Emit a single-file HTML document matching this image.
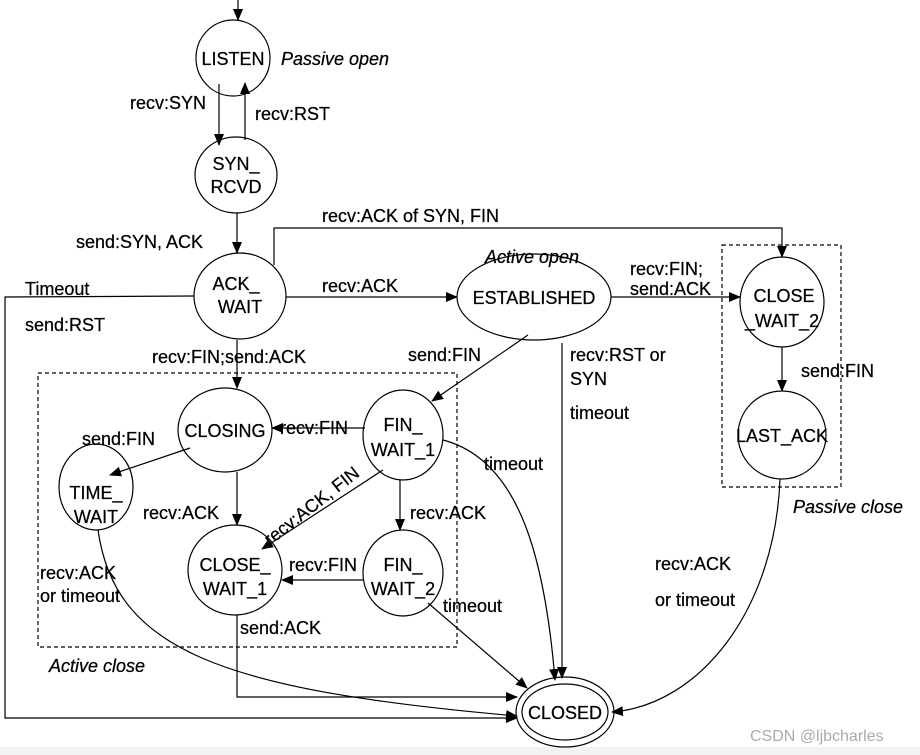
<!DOCTYPE html>
<html><head><meta charset="utf-8"><style>
html,body{margin:0;padding:0;background:#fff}
svg{display:block}
text{font-family:"Liberation Sans",Arial,sans-serif;font-size:18px;fill:#000;stroke:#000;stroke-width:0.25}
.i{font-style:italic}
.c{text-anchor:middle}
</style></head><body>
<svg width="920" height="755" viewBox="0 0 920 755" xmlns="http://www.w3.org/2000/svg">
<defs><marker id="a" markerWidth="12" markerHeight="10" refX="11" refY="5" orient="auto" markerUnits="userSpaceOnUse"><path d="M0,0 L12,5 L0,10 z" fill="#000"/></marker></defs>
<rect x="0" y="747" width="920" height="8" fill="#f2f2f2"/>
<g fill="none" stroke="#000" stroke-width="1.2">
<rect x="38" y="373" width="419" height="274" stroke-dasharray="4,3"/>
<rect x="722" y="245" width="119" height="242" stroke-dasharray="4,3"/>
<ellipse cx="233" cy="58" rx="37" ry="38"/>
<ellipse cx="236" cy="175" rx="41" ry="38"/>
<ellipse cx="240" cy="296" rx="46" ry="43"/>
<ellipse cx="534" cy="297" rx="77" ry="43"/>
<ellipse cx="782" cy="302" rx="42" ry="45"/>
<ellipse cx="782" cy="435" rx="44" ry="44"/>
<ellipse cx="225" cy="430" rx="47" ry="42"/>
<ellipse cx="403" cy="435" rx="40" ry="45"/>
<ellipse cx="96" cy="487" rx="37" ry="43"/>
<ellipse cx="235" cy="570" rx="47" ry="45"/>
<ellipse cx="403" cy="573" rx="40" ry="43"/>
<ellipse cx="565" cy="712" rx="49" ry="35"/>
<ellipse cx="565" cy="712" rx="43" ry="28"/>
<g marker-end="url(#a)">
<line x1="238" y1="0" x2="238" y2="20"/>
<line x1="219" y1="84" x2="219" y2="145"/>
<line x1="245" y1="140" x2="245" y2="83"/>
<line x1="237" y1="213" x2="237" y2="253"/>
<polyline points="274,265 274,228 782,228 782,257"/>
<line x1="286" y1="297" x2="457" y2="297"/>
<polyline points="194,296 5,297 5,718 517,718"/>
<line x1="237" y1="340" x2="237" y2="388"/>
<line x1="611" y1="297" x2="740" y2="297"/>
<line x1="528" y1="335" x2="432" y2="401"/>
<line x1="562" y1="343" x2="562" y2="678"/>
<line x1="782" y1="347" x2="782" y2="391"/>
<path d="M780,479 C775,610 700,705 612,712"/>
<line x1="365" y1="428" x2="272" y2="428"/>
<path d="M443,440 C520,460 545,560 555,680"/>
<line x1="383" y1="470" x2="262" y2="549"/>
<line x1="400" y1="480" x2="400" y2="530"/>
<line x1="363" y1="580" x2="282" y2="580"/>
<line x1="428" y1="603" x2="527" y2="688"/>
<line x1="190" y1="448" x2="110" y2="475"/>
<line x1="237" y1="472" x2="237" y2="525"/>
<polyline points="237,615 237,697 517,697"/>
<path d="M98,530 C115,650 220,690 517,716"/>
</g></g>
<text x="233" y="65" class="c">LISTEN</text>
<text x="281" y="65" class="i">Passive open</text>
<text x="130" y="109">recv:SYN</text>
<text x="255" y="120">recv:RST</text>
<text x="236" y="170" class="c">SYN_</text>
<text x="236" y="193" class="c">RCVD</text>
<text x="76" y="248">send:SYN, ACK</text>
<text x="322" y="222">recv:ACK of SYN, FIN</text>
<text x="236" y="290" class="c">ACK_</text>
<text x="240" y="313" class="c">WAIT</text>
<text x="25" y="295">Timeout</text>
<text x="25" y="331">send:RST</text>
<text x="322" y="292">recv:ACK</text>
<text x="485" y="263" class="i">Active open</text>
<text x="534" y="304" class="c">ESTABLISHED</text>
<text x="630" y="275">recv:FIN;</text>
<text x="630" y="295">send:ACK</text>
<text x="784" y="302" class="c">CLOSE</text>
<text x="782" y="327" class="c">_WAIT_2</text>
<text x="152" y="363">recv:FIN;send:ACK</text>
<text x="408" y="361">send:FIN</text>
<text x="570" y="361">recv:RST or</text>
<text x="570" y="385">SYN</text>
<text x="570" y="419">timeout</text>
<text x="801" y="377">send:FIN</text>
<text x="782" y="442" class="c">LAST_ACK</text>
<text x="225" y="437" class="c">CLOSING</text>
<text x="280" y="434">recv:FIN</text>
<text x="403" y="431" class="c">FIN_</text>
<text x="403" y="456" class="c">WAIT_1</text>
<text x="82" y="445">send:FIN</text>
<text x="484" y="470">timeout</text>
<text x="96" y="499" class="c">TIME_</text>
<text x="96" y="523" class="c">WAIT</text>
<text x="143" y="519">recv:ACK</text>
<text x="410" y="519">recv:ACK</text>
<text x="270" y="546" transform="rotate(-38 270 546)">recv:ACK, FIN</text>
<text x="793" y="513" class="i">Passive close</text>
<text x="289" y="571">recv:FIN</text>
<text x="403" y="571" class="c">FIN_</text>
<text x="403" y="595" class="c">WAIT_2</text>
<text x="235" y="571" class="c">CLOSE_</text>
<text x="235" y="595" class="c">WAIT_1</text>
<text x="40" y="579">recv:ACK</text>
<text x="40" y="602">or timeout</text>
<text x="443" y="612">timeout</text>
<text x="655" y="570">recv:ACK</text>
<text x="655" y="606">or timeout</text>
<text x="240" y="634">send:ACK</text>
<text x="49" y="672" class="i">Active close</text>
<text x="565" y="719" class="c">CLOSED</text>
<text x="750" y="741" style="fill:#aaa;stroke:none;font-size:16px">CSDN @ljbcharles</text>
</svg>
</body></html>
